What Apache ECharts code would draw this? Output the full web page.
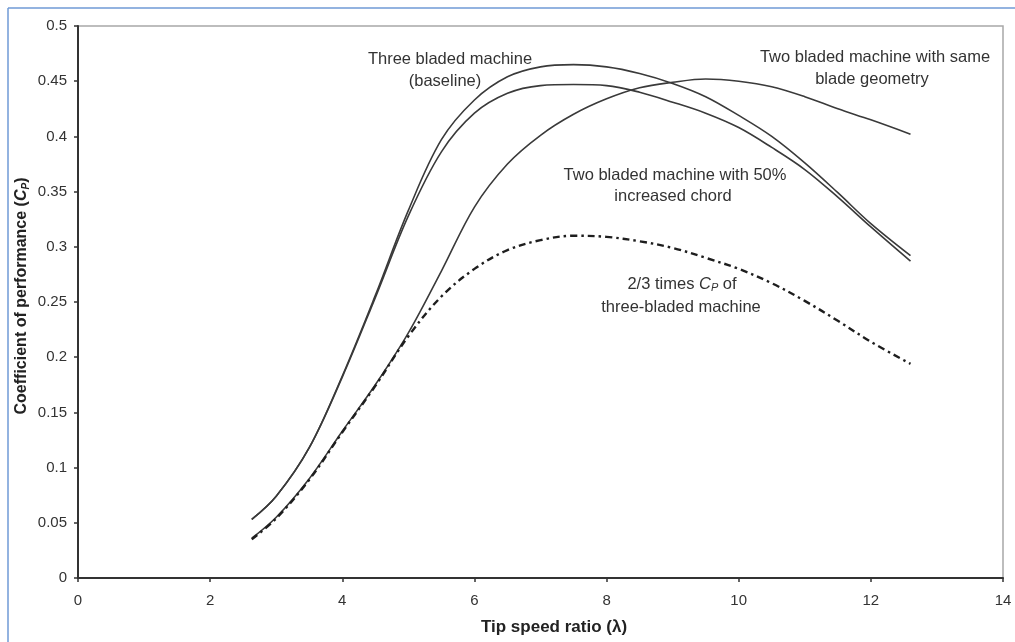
<!DOCTYPE html>
<html>
<head>
<meta charset="utf-8">
<script src="https://cdn.jsdelivr.net/npm/echarts@6/dist/echarts.min.js"></script>
<style>
html,body{margin:0;padding:0;background:#fff;}
#chart{width:1015px;height:642px;}
</style>
</head>
<body>
<div id="chart"></div>
<script>
// Tip speed ratio values and Cp readings for each curve
const threeBladedX = [2.63, 3.0, 3.5, 4.0, 4.5, 5.0, 5.5, 6.0, 6.5, 7.0, 7.5, 8.0, 8.5, 9.0, 9.5, 10.0, 10.5, 11.0, 11.5, 12.0, 12.6];
const threeBladedY = [0.053, 0.074, 0.118, 0.183, 0.256, 0.333, 0.397, 0.433, 0.454, 0.463, 0.465, 0.463, 0.457, 0.448, 0.436, 0.419, 0.40, 0.376, 0.349, 0.321, 0.292];

const chordX = [2.63, 3.0, 3.5, 4.0, 4.5, 5.0, 5.5, 6.0, 6.5, 7.0, 7.5, 8.0, 8.5, 9.0, 9.5, 10.0, 10.5, 11.0, 11.5, 12.0, 12.6];
const chordY = [0.053, 0.074, 0.118, 0.182, 0.254, 0.328, 0.386, 0.421, 0.439, 0.446, 0.447, 0.446, 0.44, 0.431, 0.421, 0.408, 0.39, 0.37, 0.345, 0.318, 0.287];

const sameGeomX = [2.63, 3.0, 3.5, 4.0, 4.5, 5.0, 5.5, 6.0, 6.5, 7.0, 7.5, 8.0, 8.5, 9.0, 9.5, 10.0, 10.5, 11.0, 11.5, 12.0, 12.6];
const sameGeomY = [0.036, 0.055, 0.09, 0.133, 0.175, 0.222, 0.278, 0.336, 0.375, 0.401, 0.42, 0.434, 0.444, 0.449, 0.452, 0.45, 0.445, 0.436, 0.425, 0.415, 0.402];

const twoThirdsX = [2.63, 3.0, 3.5, 4.0, 4.5, 5.0, 5.5, 6.0, 6.5, 7.0, 7.5, 8.0, 8.5, 9.0, 9.5, 10.0, 10.5, 11.0, 11.5, 12.0, 12.6];
const twoThirdsY = [0.035, 0.054, 0.089, 0.132, 0.174, 0.219, 0.255, 0.28, 0.297, 0.306, 0.31, 0.309, 0.305, 0.299, 0.29, 0.28, 0.267, 0.251, 0.233, 0.214, 0.194];

const xTitle = 'Tip speed ratio (λ)';
const labelThree = ['Three bladed machine', '(baseline)'];
const labelSame = ['Two bladed machine with same', 'blade geometry'];
const labelChord = ['Two bladed machine with 50%', 'increased chord'];

function pairs(xs, ys) { return xs.map((x, i) => [x, ys[i]]); }

const FONT = 'Liberation Sans, Arial, sans-serif';
const chart = echarts.init(document.getElementById('chart'));

const solid = { color: '#3a3a3a', width: 1.6 };
const ann = '16.5px ' + FONT;

function annText(x, y, t) {
  return { type: 'text', x: x, y: y, style: { text: t, font: ann, fill: '#333', align: 'center', verticalAlign: 'middle' } };
}

chart.setOption({
  animation: false,
  backgroundColor: '#fff',
  grid: { left: 78, right: 12, top: 26, bottom: 64, show: true, borderColor: '#a8a8a8', borderWidth: 1.5 },
  xAxis: {
    type: 'value', min: 0, max: 14, interval: 2,
    axisLine: { show: true, lineStyle: { color: '#333', width: 2 } },
    axisTick: { show: true, length: 4, lineStyle: { color: '#333', width: 1.5 } },
    axisLabel: { color: '#333', fontFamily: FONT, fontSize: 15, margin: 15 },
    splitLine: { show: false }
  },
  yAxis: {
    type: 'value', min: 0, max: 0.5, interval: 0.05,
    axisLine: { show: true, lineStyle: { color: '#333', width: 2 } },
    axisTick: { show: true, length: 4, lineStyle: { color: '#333', width: 1.5 } },
    axisLabel: { color: '#333', fontFamily: FONT, fontSize: 15, margin: 11 },
    splitLine: { show: false }
  },
  series: [
    { type: 'line', data: pairs(threeBladedX, threeBladedY), smooth: 0.35, showSymbol: false, lineStyle: solid, z: 2 },
    { type: 'line', data: pairs(chordX, chordY), smooth: 0.35, showSymbol: false, lineStyle: solid, z: 2 },
    { type: 'line', data: pairs(sameGeomX, sameGeomY), smooth: 0.35, showSymbol: false, lineStyle: solid, z: 2 },
    { type: 'line', data: pairs(twoThirdsX, twoThirdsY), smooth: 0.35, showSymbol: false,
      lineStyle: { color: '#1e1e1e', width: 2.4, type: [7, 4, 2.5, 4] }, z: 3 }
  ],
  graphic: [
    { type: 'line', shape: { x1: 8, y1: 8, x2: 1015, y2: 8 }, style: { stroke: '#6f9ad6', lineWidth: 1.5 } },
    { type: 'line', shape: { x1: 8, y1: 8, x2: 8, y2: 642 }, style: { stroke: '#6f9ad6', lineWidth: 1.5 } },
    annText(450, 59, labelThree[0]),
    annText(445, 81, labelThree[1]),
    annText(875, 57, labelSame[0]),
    annText(872, 79, labelSame[1]),
    annText(675, 175, labelChord[0]),
    annText(673, 196, labelChord[1]),
    { type: 'text', x: 682, y: 284, style: {
        text: '{n|2/3 times }{i|C}{s|P}{n| of}', align: 'center', verticalAlign: 'middle',
        rich: {
          n: { font: ann, fill: '#333' },
          i: { font: 'italic ' + ann, fill: '#333' },
          s: { font: 'italic 11px ' + FONT, fill: '#333', padding: [8, 0, 0, 0] }
        } } },
    annText(681, 307, 'three-bladed machine'),
    { type: 'text', x: 554, y: 627, style: { text: xTitle, font: 'bold 17px ' + FONT, fill: '#222', align: 'center', verticalAlign: 'middle' } },
    { type: 'text', x: 22, y: 296, rotation: Math.PI / 2, style: {
        text: '{b|Coefficient of performance (}{bi|C}{bs|P}{b|)}', align: 'center', verticalAlign: 'middle',
        rich: {
          b: { font: 'bold 16px ' + FONT, fill: '#222' },
          bi: { font: 'bold italic 16px ' + FONT, fill: '#222' },
          bs: { font: 'bold italic 10px ' + FONT, fill: '#222', padding: [8, 0, 0, 0] }
        } } }
  ]
});
</script>
</body>
</html>
